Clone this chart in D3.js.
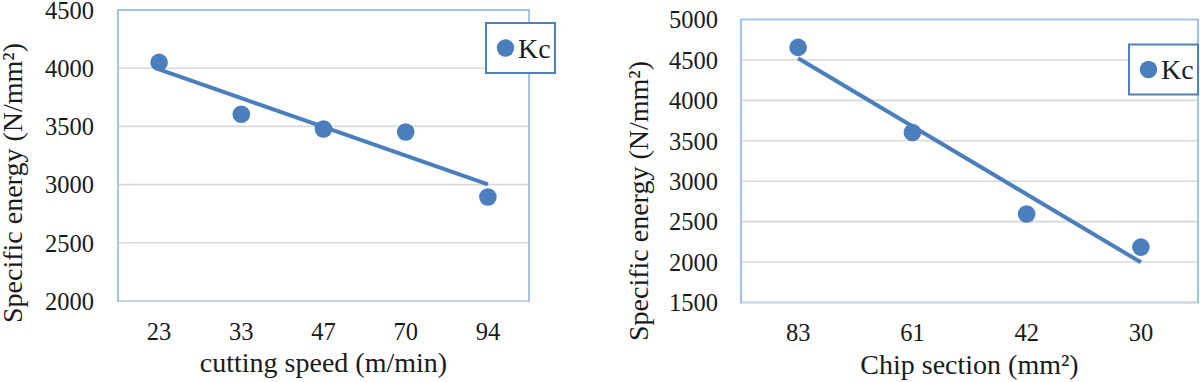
<!DOCTYPE html>
<html>
<head>
<meta charset="utf-8">
<script src="https://cdn.jsdelivr.net/npm/d3@7"></script>
<style>
  body { margin: 0; background: #fff; }
  svg text { font-family: "Liberation Serif", "Times New Roman", serif; fill: #1a1a1a; }
</style>
</head>
<body>
<svg id="chart" width="1200" height="382"></svg>
<script>
// left panel: cutting speed
const speedCats = ["23", "33", "47", "70", "94"];
const speedKc = [4050, 3605, 3478, 3452, 2893];
const speedTicks = [2000, 2500, 3000, 3500, 4000, 4500];

// right panel: chip section
const chipCats = ["83", "61", "42", "30"];
const chipKc = [4655, 3602, 2595, 2185];
const chipTicks = [1500, 2000, 2500, 3000, 3500, 4000, 4500, 5000];

const seriesName = "Kc";
const yTitle = "Specific energy (N/mm\u00B2)";

const blue = "#4a7ebd";
const frameBlue = "#9bbde6";
const gridGray = "#d9d9d9";
const serif = "'Liberation Serif', 'Times New Roman', serif";

const svg = d3.select("#chart");

// least squares line, same as the spreadsheet linear trendline
function trend(vals) {
  const xs = vals.map((d, i) => i + 1);
  const mx = d3.mean(xs), my = d3.mean(vals);
  const slope = d3.sum(xs, (x, i) => (x - mx) * (vals[i] - my)) / d3.sum(xs, x => (x - mx) * (x - mx));
  return xs.map(x => my + slope * (x - mx));
}

function drawPanel(opt) {
  const g = svg.append("g");
  const x = d3.scaleBand().domain(opt.cats).range([opt.left, opt.right]).padding(0);
  const y = d3.scaleLinear().domain(d3.extent(opt.ticks)).range([opt.bottom, opt.top]);
  const cx = d => x(d) + x.bandwidth() / 2;

  // plot frame
  g.append("rect")
    .attr("x", opt.left).attr("y", opt.top)
    .attr("width", opt.right - opt.left).attr("height", opt.bottom - opt.top)
    .attr("fill", "none").attr("stroke", frameBlue).attr("stroke-width", 1.8);

  // gridlines
  g.selectAll("line.grid")
    .data(opt.ticks.slice(0, -1))
    .enter().append("line")
    .attr("class", "grid")
    .attr("x1", opt.left + 1).attr("x2", opt.right - 1)
    .attr("y1", d => y(d)).attr("y2", d => y(d))
    .attr("stroke", gridGray).attr("stroke-width", 1.6);

  // y tick labels
  const yAxis = g.append("g")
    .attr("transform", "translate(" + opt.yLabelRight + ",0)")
    .call(d3.axisLeft(y).tickValues(opt.ticks).tickSize(0).tickPadding(0).tickFormat(d3.format("d")));
  yAxis.attr("font-family", null).attr("font-size", null);
  yAxis.select(".domain").remove();
  yAxis.selectAll("text")
    .style("font-family", serif).style("font-size", "24.5px")
    .attr("fill", "#1a1a1a").attr("dy", "0.34em");

  // x tick labels
  const xAxis = g.append("g")
    .attr("transform", "translate(0," + opt.bottom + ")")
    .call(d3.axisBottom(x).tickSize(0).tickPadding(0));
  xAxis.attr("font-family", null).attr("font-size", null);
  xAxis.select(".domain").remove();
  xAxis.selectAll("text")
    .style("font-family", serif).style("font-size", "24.5px")
    .attr("fill", "#1a1a1a")
    .attr("dy", null).attr("y", opt.xTickBase - opt.bottom);

  // trendline
  const fit = trend(opt.values);
  g.append("path")
    .datum(fit)
    .attr("fill", "none").attr("stroke", blue).attr("stroke-width", 4)
    .attr("d", d3.line().x((d, i) => cx(opt.cats[i])).y(d => y(d)));

  // points
  g.selectAll("circle.pt")
    .data(opt.values)
    .enter().append("circle")
    .attr("class", "pt")
    .attr("cx", (d, i) => cx(opt.cats[i]))
    .attr("cy", d => y(d))
    .attr("r", 8.8)
    .attr("fill", blue);

  // axis titles
  g.append("text")
    .attr("transform", "translate(" + opt.yTitleX + "," + opt.yTitleY + ") rotate(-90)")
    .attr("text-anchor", "middle").attr("font-size", 28)
    .text(yTitle);
  g.append("text")
    .attr("x", (opt.left + opt.right) / 2).attr("y", opt.xTitleBase)
    .attr("text-anchor", "middle").attr("font-size", 28)
    .text(opt.xTitle);

  // legend
  const lg = g.append("g").attr("transform", "translate(" + opt.legend[0] + "," + opt.legend[1] + ")");
  lg.append("rect")
    .attr("x", 0).attr("y", 0).attr("width", 69).attr("height", 50)
    .attr("fill", "#fff").attr("stroke", "#4f81bd").attr("stroke-width", 2);
  lg.append("circle").attr("cx", 19.5).attr("cy", 25).attr("r", 8.7).attr("fill", blue);
  lg.append("text").attr("x", 32).attr("y", 34.5).attr("font-size", 28).text(seriesName);
}

drawPanel({
  cats: speedCats, values: speedKc, ticks: speedTicks,
  left: 118, right: 529, top: 10, bottom: 301,
  yLabelRight: 94, xTickBase: 340,
  yTitleX: 22, yTitleY: 183,
  xTitle: "cutting speed (m/min)", xTitleBase: 372,
  legend: [486, 23]
});

drawPanel({
  cats: chipCats, values: chipKc, ticks: chipTicks,
  left: 741, right: 1198, top: 19.5, bottom: 302.5,
  yLabelRight: 718, xTickBase: 341,
  yTitleX: 648, yTitleY: 201,
  xTitle: "Chip section (mm\u00B2)", xTitleBase: 374,
  legend: [1129, 44.5]
});
</script>
</body>
</html>
